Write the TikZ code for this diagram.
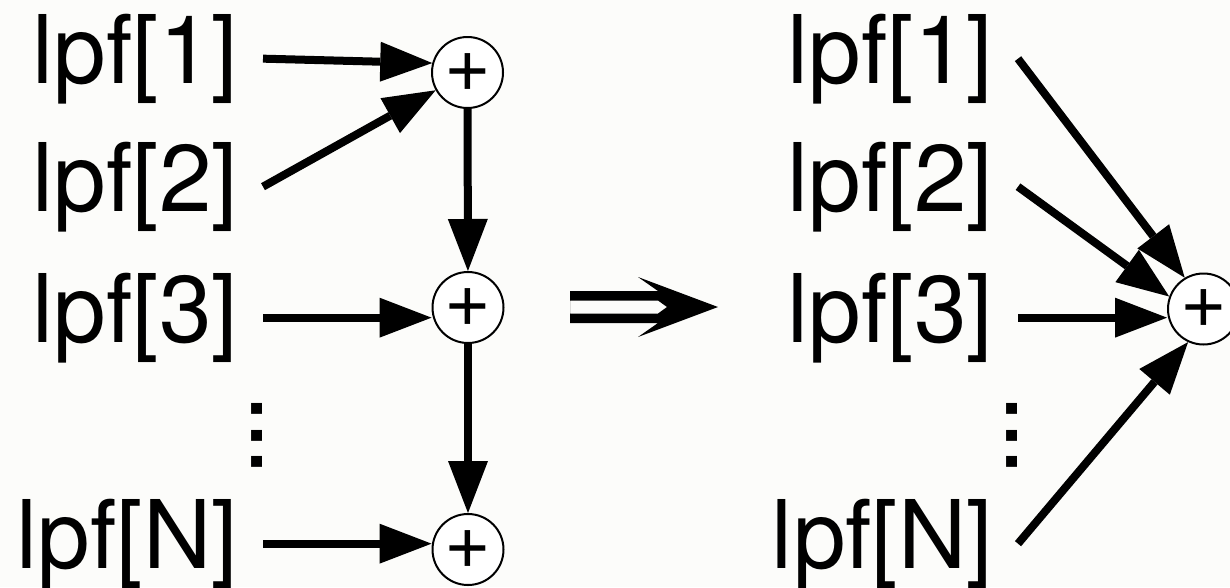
\documentclass[tikz,border=0pt]{standalone}
\usepackage{fontspec}
\setmainfont{TeX Gyre Heros}
\usetikzlibrary{arrows.meta}
\definecolor{bgc}{RGB}{252,252,250}
\begin{document}
\begin{tikzpicture}[x=1pt,y=-1pt,
  lbl/.style={font=\fontsize{94.7}{100}\selectfont, inner ysep=0pt, inner xsep=25pt, outer sep=0pt, anchor=base east},
  sum/.style={circle, draw, line width=2pt, fill=white, minimum size=71pt, inner sep=0pt, font=\fontsize{80}{84}\selectfont},
  vdots/.style={inner sep=0pt, rotate=90, font=\fontsize{105}{110}\selectfont},
  arr/.style={line width=8pt, -{Triangle[length=52pt,width=40pt,line width=0pt]}}]
\fill[bgc] (0,0) rectangle (1230,587);
\useasboundingbox (0,0) rectangle (1230,587);
\clip (0,0) rectangle (1230,587);
% left column
\node[lbl] (a1) at (263,83) {lpf[1]};
\node[lbl] (a2) at (263,211) {lpf[2]};
\node[lbl] (a3) at (263,342) {lpf[3]};
\node[lbl] (aN) at (263,568) {lpf[N]};
\node[vdots] (ad) at (257.5,435.5) {.\kern-2.7pt.\kern-2.7pt.};
\node[sum] (c1) at (467.5,72.5) {+};
\node[sum] (c2) at (468,307.5) {+};
\node[sum] (c3) at (468,549.5) {+};
\draw[arr] (a1.east) -- (c1.165);
\draw[arr] (a2.east) -- (c1);
\draw[arr] (a3.east) -- (c2.west |- a3.east);
\draw[arr] (aN.east) -- (c3.west |- aN.east);
\draw[arr] (c1) -- (c2);
\draw[arr] (c2) -- (c3);
% implication arrow
\fill[black, even odd rule]
  (570,291) -- (658,291) -- (638,277) -- (718,307) -- (638,337) -- (658,323) -- (570,323) -- cycle
  (570,300.5) -- (658,300.5) -- (667,307) -- (658,313.5) -- (570,313.5) -- cycle;
% right column
\node[lbl] (b1) at (1018,83) {lpf[1]};
\node[lbl] (b2) at (1018,211) {lpf[2]};
\node[lbl] (b3) at (1018,342) {lpf[3]};
\node[lbl] (bN) at (1018,568) {lpf[N]};
\node[vdots] (bd) at (1012,435.5) {.\kern-2.7pt.\kern-2.7pt.};
\node[sum] (r) at (1203.5,309) {+};
\draw[arr] (b1.east) -- (r.121);
\draw[arr] (b2.east) -- (r.160);
\draw[arr] (b3.east) -- (r.west |- b3.east);
\draw[arr] (bN.east) -- (r.245);
\end{tikzpicture}
\end{document}
